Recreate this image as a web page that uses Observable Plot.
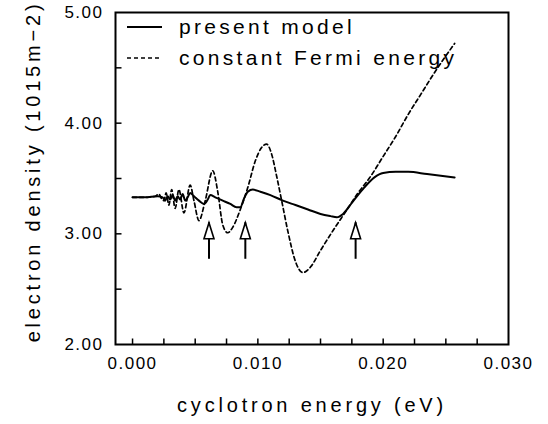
<!DOCTYPE html>
<html><head><meta charset="utf-8">
<script src="https://cdn.jsdelivr.net/npm/d3@7"></script>
<script src="https://cdn.jsdelivr.net/npm/@observablehq/plot@0.6"></script>
<style>
body{margin:0;background:#fff}
#wrap{position:relative;width:548px;height:424px}
</style></head><body><div id="wrap"></div>
<script>
// present model (solid)
const solidEnergy = [0, 0.0010, 0.0020, 0.0024, 0.0026, 0.0028, 0.0030, 0.0032, 0.0034, 0.0036, 0.0038, 0.0040, 0.0042, 0.0044, 0.0046, 0.0049, 0.0053, 0.0057, 0.0060, 0.0062, 0.0066, 0.0072, 0.0078, 0.0083, 0.0086, 0.0089, 0.0092, 0.0096, 0.0102, 0.0110, 0.0120, 0.0130, 0.0140, 0.0150, 0.0158, 0.0163, 0.0168, 0.0175, 0.0185, 0.0193, 0.0200, 0.0210, 0.0220, 0.0235, 0.0257];
const solidDensity = [3.33, 3.33, 3.34, 3.33, 3.30, 3.34, 3.31, 3.35, 3.30, 3.34, 3.31, 3.36, 3.30, 3.33, 3.37, 3.34, 3.30, 3.27, 3.31, 3.35, 3.33, 3.30, 3.27, 3.24, 3.24, 3.32, 3.38, 3.40, 3.38, 3.35, 3.30, 3.26, 3.22, 3.18, 3.16, 3.15, 3.18, 3.28, 3.42, 3.51, 3.55, 3.56, 3.56, 3.54, 3.51];
// constant Fermi energy (dashed)
const dashedEnergy = [0, 0.0010, 0.0018, 0.0021, 0.0023, 0.0025, 0.00268, 0.0029, 0.00312, 0.0034, 0.0037, 0.0041, 0.0046, 0.0049, 0.0053, 0.0058, 0.0064, 0.0068, 0.0072, 0.0076, 0.0080, 0.0086, 0.0092, 0.0098, 0.0103, 0.0107, 0.0111, 0.0115, 0.0119, 0.0124, 0.0130, 0.0136, 0.0142, 0.0150, 0.0160, 0.0170, 0.0180, 0.0190, 0.0200, 0.0210, 0.0220, 0.0230, 0.0240, 0.0257];
const dashedDensity = [3.33, 3.33, 3.34, 3.36, 3.32, 3.30, 3.37, 3.26, 3.40, 3.23, 3.40, 3.19, 3.44, 3.30, 3.12, 3.30, 3.57, 3.38, 3.08, 3.01, 3.06, 3.22, 3.42, 3.66, 3.78, 3.81, 3.72, 3.52, 3.30, 3.02, 2.75, 2.65, 2.70, 2.85, 3.03, 3.20, 3.37, 3.52, 3.70, 3.88, 4.08, 4.26, 4.44, 4.72];
// arrows
const arrowEnergy = [0.0061, 0.0090, 0.0178];
const arrowTip = [3.10, 3.10, 3.10];
const arrowTail = [2.77, 2.77, 2.77];
// ticks
const xLabelTicks = [0, 0.010, 0.020, 0.030];
const xMinorTicks = [0, 0.0025, 0.005, 0.0075, 0.010, 0.0125, 0.015, 0.0175, 0.020, 0.0225, 0.025, 0.0275];
const yLabelTicks = [2, 3, 4, 5];
const yMinorTicks = [2.5, 3, 3.5, 4, 4.5];
const xTitle = "cyclotron energy (eV)";
const yTitle = "electron density (1015m\u22122)";
const legendLabels = ["present model", "constant Fermi energy"];

const solid = solidEnergy.map((x, i) => ({x, y: solidDensity[i]}));
const dashed = dashedEnergy.map((x, i) => ({x, y: dashedDensity[i]}));
const arrows = arrowEnergy.map((x, i) => ({x, tip: arrowTip[i], tail: arrowTail[i]}));

const tickUp = {draw(ctx) { ctx.moveTo(0, 0); ctx.lineTo(0, -6); }};
const tickRight = {draw(ctx) { ctx.moveTo(0, 0); ctx.lineTo(6, 0); }};
const head = {draw(ctx) { ctx.moveTo(0, 0); ctx.lineTo(5, 16); ctx.lineTo(-5, 16); ctx.closePath(); }};

const FONT = "'Liberation Sans', Arial, sans-serif";

const chart = Plot.plot({
  width: 548, height: 424,
  marginLeft: 115, marginRight: 40, marginTop: 12, marginBottom: 80,
  style: {fontFamily: FONT, fontSize: "17px", color: "black", background: "white", letterSpacing: "1.5px"},
  x: {domain: [-0.00136, 0.030]},
  y: {domain: [2, 5]},
  marks: [
    Plot.axisX({ticks: xLabelTicks, tickSize: 0, tickPadding: 12, tickFormat: d3.format(".3f"), label: null, fontSize: 17}),
    Plot.axisY({ticks: yLabelTicks, tickSize: 0, tickPadding: 12, tickFormat: d3.format(".2f"), label: null, fontSize: 17}),
    Plot.dot(xMinorTicks, {x: d => d, frameAnchor: "bottom", symbol: tickUp, stroke: "black", strokeWidth: 1.5}),
    Plot.dot(yMinorTicks, {y: d => d, frameAnchor: "left", symbol: tickRight, stroke: "black", strokeWidth: 1.5}),
    Plot.line(dashed, {x: "x", y: "y", stroke: "black", strokeWidth: 1.7, strokeDasharray: "4,3", curve: "monotone-x"}),
    Plot.line(solid, {x: "x", y: "y", stroke: "black", strokeWidth: 2, curve: "monotone-x"}),
    Plot.ruleX(arrows, {x: "x", y1: "tail", y2: "tip", stroke: "black", strokeWidth: 2}),
    Plot.dot(arrows, {x: "x", y: "tip", symbol: head, fill: "white", stroke: "black", strokeWidth: 1.6}),
    Plot.frame({stroke: "black", strokeWidth: 2}),
    Plot.text([xTitle], {frameAnchor: "bottom", dy: 61, lineAnchor: "middle", textAnchor: "middle", fontSize: 20}),
    Plot.text([yTitle], {frameAnchor: "left", dx: -82, dy: -7, rotate: -90, lineAnchor: "middle", textAnchor: "middle", fontSize: 20})
  ]
});
document.getElementById("wrap").appendChild(chart);

// title letter spacing
d3.select(chart).selectAll("text").filter(function() { return this.textContent === xTitle || this.textContent === yTitle; })
  .style("letter-spacing", "3.8px");

// legend inside the frame
const svg = d3.select(chart);
const leg = svg.append("g").attr("font-family", FONT).attr("font-size", 21).attr("text-anchor", "start").style("letter-spacing", "3.3px");
const rows = [{y: 27, dash: null}, {y: 58, dash: "4,3"}];
rows.forEach((r, i) => {
  leg.append("line").attr("x1", 127).attr("x2", 162).attr("y1", r.y).attr("y2", r.y)
    .attr("stroke", "black").attr("stroke-width", i === 0 ? 2 : 1.7).attr("stroke-dasharray", r.dash);
  leg.append("text").attr("x", 179).attr("y", r.y).attr("dy", "0.35em").attr("text-anchor", "start").text(legendLabels[i]);
});
</script></body></html>
